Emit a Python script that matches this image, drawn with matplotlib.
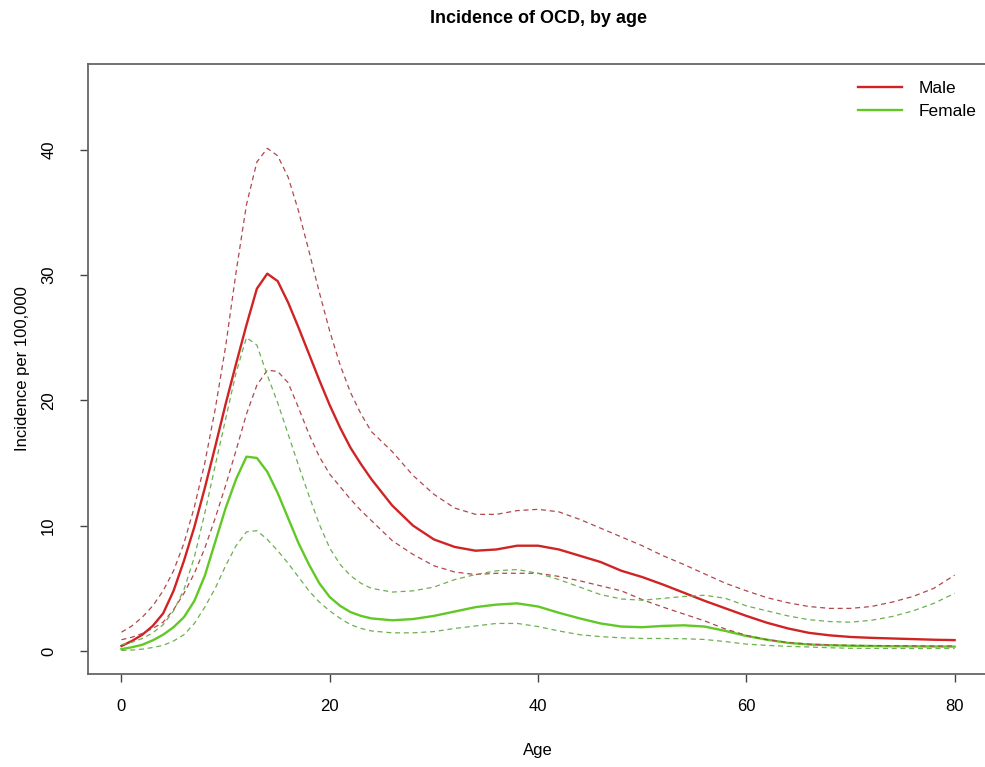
import matplotlib
matplotlib.use("Agg")
import matplotlib.pyplot as plt

plt.rcParams['font.family'] = ['Liberation Sans', 'DejaVu Sans']

age = [0, 1, 2, 3, 4, 5, 6, 7, 8, 9, 10, 11, 12, 13, 14, 15, 16, 17, 18, 19, 20,
       21, 22, 23, 24,
       26, 28, 30, 32, 34, 36, 38, 40, 42, 44, 46, 48, 50, 52, 54, 56, 58, 60,
       62, 64, 66, 68, 70, 72, 74, 76, 78, 80]

male = [0.4, 0.8, 1.3, 2.0, 3.0, 4.8, 7.2, 9.9, 13.0, 16.3, 19.7, 22.9, 26.0, 28.9,
        30.1, 29.5, 27.8, 25.8, 23.7, 21.6, 19.6, 17.8, 16.2, 14.9, 13.7,
        11.6, 10.0, 8.9, 8.3, 8.0, 8.1, 8.4, 8.4, 8.1, 7.6, 7.1, 6.4, 5.9, 5.3,
        4.65, 4.0, 3.4, 2.8, 2.25, 1.8, 1.45, 1.25, 1.12, 1.05, 1.0, 0.95, 0.9, 0.87]
male_hi = [1.5, 2.0, 2.7, 3.6, 4.8, 6.4, 8.6, 11.5, 15.0, 19.3, 24.3, 30.2, 35.6, 39.0,
           40.1, 39.5, 37.8, 35.1, 31.9, 28.6, 25.5, 22.8, 20.6, 18.9, 17.5,
           15.9, 14.0, 12.5, 11.4, 10.9, 10.9, 11.2, 11.3, 11.1, 10.5, 9.8, 9.1, 8.4,
           7.6, 6.9, 6.15, 5.4, 4.8, 4.25, 3.85, 3.55, 3.4, 3.4, 3.55, 3.9, 4.35, 5.0, 6.05]
male_lo = [0.9, 1.1, 1.4, 1.8, 2.3, 3.3, 4.6, 6.2, 8.2, 10.6, 13.2, 16.0, 18.9, 21.2,
           22.4, 22.3, 21.4, 19.4, 17.3, 15.5, 14.1, 13.1, 12.1, 11.2, 10.4,
           8.8, 7.7, 6.8, 6.3, 6.1, 6.2, 6.2, 6.2, 5.95, 5.6, 5.2, 4.8, 4.1, 3.5,
           2.95, 2.4, 1.75, 1.25, 0.9, 0.68, 0.55, 0.48, 0.45, 0.43, 0.42, 0.41, 0.4, 0.4]

female = [0.15, 0.3, 0.5, 0.85, 1.3, 1.9, 2.7, 4.0, 6.0, 8.7, 11.4, 13.7, 15.5, 15.4,
          14.3, 12.6, 10.6, 8.6, 6.9, 5.4, 4.3, 3.6, 3.1, 2.8, 2.6,
          2.45, 2.55, 2.8, 3.15, 3.5, 3.7, 3.8, 3.55, 3.05, 2.6, 2.2, 1.95, 1.9, 2.0,
          2.05, 1.95, 1.6, 1.2, 0.9, 0.65, 0.52, 0.46, 0.42, 0.4, 0.38, 0.37, 0.36, 0.35]
female_hi = [0.5, 0.7, 1.0, 1.45, 2.1, 3.2, 4.9, 7.5, 11.0, 14.8, 18.5, 22.2, 25.0, 24.4,
             22.0, 19.8, 17.3, 14.8, 12.4, 10.1, 8.2, 6.9, 6.0, 5.4, 5.0,
             4.7, 4.8, 5.1, 5.7, 6.1, 6.4, 6.5, 6.2, 5.7, 5.1, 4.5, 4.15, 4.05, 4.2,
             4.35, 4.45, 4.2, 3.6, 3.2, 2.8, 2.5, 2.35, 2.3, 2.45, 2.75, 3.2, 3.8, 4.6]
female_lo = [0.05, 0.08, 0.15, 0.28, 0.45, 0.8, 1.3, 2.2, 3.5, 5.0, 6.8, 8.4, 9.5, 9.6,
             8.9, 8.0, 7.0, 5.9, 4.8, 3.9, 3.2, 2.6, 2.1, 1.8, 1.6,
             1.45, 1.45, 1.55, 1.8, 2.0, 2.2, 2.2, 1.95, 1.6, 1.3, 1.15, 1.05, 1.0, 1.0,
             0.98, 0.92, 0.75, 0.55, 0.45, 0.37, 0.32, 0.26, 0.22, 0.21, 0.2, 0.2, 0.2, 0.2]

red = '#D02424'
green = '#62C826'
red_d = '#B0484C'
green_d = '#6DB050'

fig = plt.figure(figsize=(9.85, 7.67), dpi=100)
ax = fig.add_axes([0.0895, 0.1218, 0.9135, 0.7944])

ax.plot(age, male, color=red, lw=1.7, label='Male')
ax.plot(age, female, color=green, lw=1.7, label='Female')
for y, c in [(male_hi, red_d), (male_lo, red_d), (female_hi, green_d), (female_lo, green_d)]:
    ax.plot(age, y, color=c, lw=0.9, dashes=(4, 3))

ax.set_xlim(-3.2, 83.2)
ax.set_ylim(-1.8, 46.8)
ax.set_xticks([0, 20, 40, 60, 80])
ax.set_yticks([0, 10, 20, 30, 40])
ax.tick_params(direction='out', length=6, width=1, color='#444444', labelsize=12)
ax.tick_params(axis='x', pad=12)
ax.tick_params(axis='y', pad=17)
for lab in ax.get_yticklabels():
    lab.set_rotation(90)
    lab.set_va('center')
for s in ax.spines.values():
    s.set_color('#666666')
    s.set_linewidth(1.3)
# the box's right side falls just outside the image
ax.spines['right'].set_visible(False)

ax.set_xlabel('Age', fontsize=12, labelpad=21)
ax.set_ylabel('Incidence per 100,000', fontsize=12, labelpad=8)
ax.set_title('Incidence of OCD, by age', fontsize=13, fontweight='bold', pad=30)

ax.legend(loc='upper right', bbox_to_anchor=(1.005, 0.998), frameon=False,
          fontsize=12.5, handlelength=2.5, handletextpad=1.0, labelspacing=0.45)

fig.savefig('out.png', dpi=100)
